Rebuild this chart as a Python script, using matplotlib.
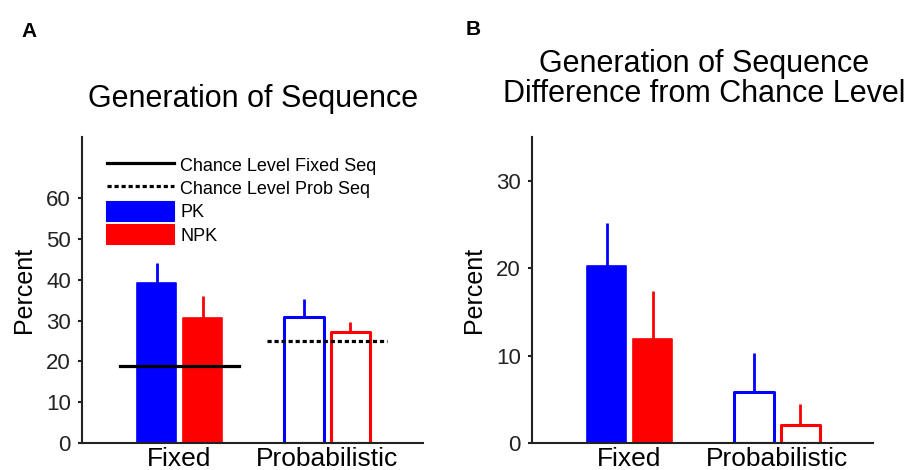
import numpy as np
import matplotlib
matplotlib.use('Agg')
import matplotlib.pyplot as plt
from matplotlib.lines import Line2D
from matplotlib.patches import Patch

plt.rcParams['font.family'] = ['Liberation Sans', 'DejaVu Sans']

# data
conditions = ['Fixed', 'Probabilistic']
groups = ['PK', 'NPK']
colors = ['#0000ff', '#ff0000']

# panel A: percent, rows = group (PK, NPK), cols = condition (Fixed, Probabilistic)
pct_mean = [[39.2, 30.9], [30.6, 27.2]]
pct_err = [[4.8, 4.4], [5.4, 2.4]]
chance_fixed = 18.8
chance_prob = 25.0

# panel B: difference from chance level
diff_mean = [[20.2, 5.8], [11.9, 2.1]]
diff_err = [[5.0, 4.5], [5.5, 2.4]]

centers = np.array([2.5, 6.28])
offset = 0.59
bar_w = 1.0


def draw_bars(ax, means, errs):
    for g in range(2):
        xs = centers + (2 * g - 1) * offset
        for c in range(2):
            filled = (c == 0)
            ax.bar(xs[c], means[g][c], width=bar_w,
                   facecolor=colors[g] if filled else 'white',
                   edgecolor=colors[g], linewidth=1.2 if filled else 2.2,
                   joinstyle='round', zorder=2)
            ax.errorbar(xs[c], means[g][c], yerr=[[0], [errs[g][c]]], fmt='none',
                        ecolor=colors[g], elinewidth=2.0, capsize=0, zorder=1.5)


def style_axes(ax, ymax, yticks):
    ax.set_xlim(0, 8.74)
    ax.set_ylim(0, ymax)
    ax.set_yticks(yticks)
    ax.set_xticks(centers)
    ax.set_xticklabels(conditions, fontsize=19)
    ax.tick_params(axis='x', length=0, pad=3)
    ax.tick_params(axis='y', length=3, width=1.5, labelsize=16, pad=5, colors='#222222')
    for s in ['top', 'right']:
        ax.spines[s].set_visible(False)
    for s in ['left', 'bottom']:
        ax.spines[s].set_linewidth(1.5)
        ax.spines[s].set_color('#222222')
    ax.set_ylabel('Percent', fontsize=18, labelpad=7)


fig = plt.figure(figsize=(9.1, 4.7), dpi=100)
axA = fig.add_axes([82 / 910, 1 - 443 / 470, 341 / 910, 306 / 470])
axB = fig.add_axes([532 / 910, 1 - 443 / 470, 341 / 910, 306 / 470])

# panel A
draw_bars(axA, pct_mean, pct_err)
axA.plot([centers[0] - 1.53, centers[0] + 1.53], [chance_fixed, chance_fixed],
         color='black', linewidth=2.3, zorder=3)
axA.plot([centers[1] - 1.54, centers[1] + 1.54], [chance_prob, chance_prob],
         color='black', linewidth=2.3, linestyle=(0, (1.3, 0.9)), zorder=3)
style_axes(axA, 75, np.arange(0, 61, 10))

handles = [Line2D([], [], color='black', linewidth=2.3),
           Line2D([], [], color='black', linewidth=2.3, linestyle=(0, (1.3, 0.9))),
           Patch(facecolor=colors[0], edgecolor=colors[0], linewidth=1.5, joinstyle='round'),
           Patch(facecolor=colors[1], edgecolor=colors[1], linewidth=1.5, joinstyle='round')]
labels = ['Chance Level Fixed Seq', 'Chance Level Prob Seq', 'PK', 'NPK']
axA.legend(handles, labels, loc='upper left', bbox_to_anchor=(0.073, 0.94),
           frameon=False, fontsize=13, handlelength=3.7, handleheight=1.2,
           labelspacing=0.22, handletextpad=0.35, borderpad=0, borderaxespad=0)

# panel B
draw_bars(axB, diff_mean, diff_err)
style_axes(axB, 35, [0, 10, 20, 30])

# titles and panel letters
fig.text(253 / 910, 1 - 107 / 470, 'Generation of Sequence', fontsize=22,
         ha='center', va='baseline')
fig.text(704 / 910, 1 - 72 / 470, 'Generation of Sequence', fontsize=22,
         ha='center', va='baseline')
fig.text(704 / 910, 1 - 102 / 470, 'Difference from Chance Level', fontsize=22,
         ha='center', va='baseline')
fig.text(21 / 910, 1 - 37 / 470, 'A', fontsize=15, fontweight='bold', va='baseline')
fig.text(466 / 910, 1 - 35 / 470, 'B', fontsize=15, fontweight='bold', va='baseline')

fig.savefig('out.png', dpi=100)
